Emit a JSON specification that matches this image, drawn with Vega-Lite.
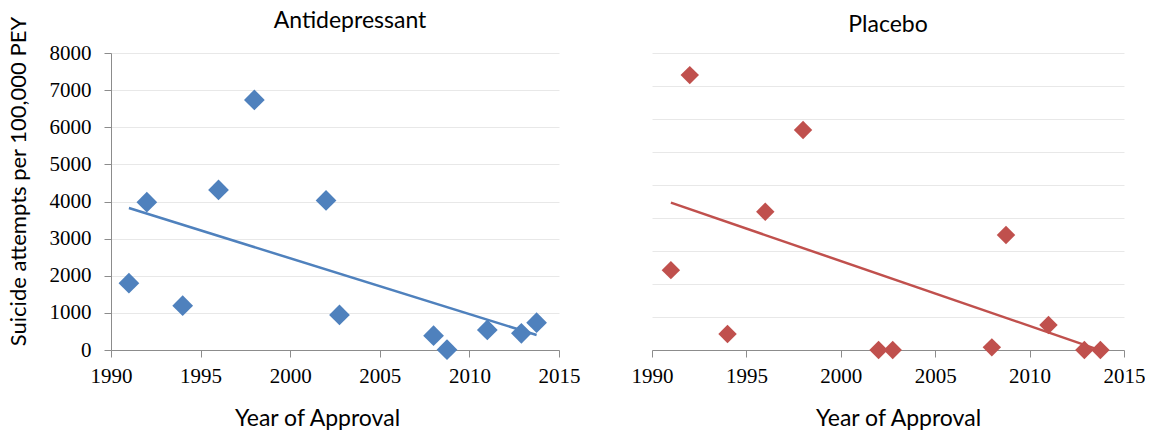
{
  "$schema": "https://vega.github.io/schema/vega-lite/v6.json",
  "padding": {"left": 6, "top": 10, "right": 0, "bottom": 0},
  "background": "white",
  "datasets": {
    "pts": [
      {"group": "Antidepressant", "year": 1991, "value": 1800},
      {"group": "Antidepressant", "year": 1992, "value": 3980},
      {"group": "Antidepressant", "year": 1994, "value": 1195},
      {"group": "Antidepressant", "year": 1996, "value": 4310},
      {"group": "Antidepressant", "year": 1998, "value": 6735},
      {"group": "Antidepressant", "year": 2002, "value": 4030},
      {"group": "Antidepressant", "year": 2002.75, "value": 945},
      {"group": "Antidepressant", "year": 2008, "value": 385},
      {"group": "Antidepressant", "year": 2008.75, "value": 10},
      {"group": "Antidepressant", "year": 2011, "value": 540},
      {"group": "Antidepressant", "year": 2012.9, "value": 450},
      {"group": "Antidepressant", "year": 2013.75, "value": 735},
      {"group": "Placebo", "year": 1991, "value": 2420},
      {"group": "Placebo", "year": 1992, "value": 8330},
      {"group": "Placebo", "year": 1994, "value": 485},
      {"group": "Placebo", "year": 1996, "value": 4190},
      {"group": "Placebo", "year": 1998, "value": 6665},
      {"group": "Placebo", "year": 2002, "value": 0},
      {"group": "Placebo", "year": 2002.75, "value": 0},
      {"group": "Placebo", "year": 2008, "value": 80},
      {"group": "Placebo", "year": 2008.75, "value": 3485},
      {"group": "Placebo", "year": 2011, "value": 760},
      {"group": "Placebo", "year": 2012.9, "value": 0},
      {"group": "Placebo", "year": 2013.75, "value": 0}
    ]
  },
  "data": {"name": "pts"},
  "spacing": 51,
  "config": {
    "view": {"stroke": null},
    "axis": {
      "labelFont": "Liberation Serif",
      "labelFontSize": 21,
      "labelColor": "#000000",
      "labelFlush": false,
      "labelOverlap": false,
      "tickSize": 7,
      "tickColor": "#8c8c8c",
      "domainColor": "#8c8c8c",
      "gridColor": "#e8e8e8",
      "titleFont": "Lato",
      "titleFontWeight": "normal",
      "titleColor": "#000000"
    },
    "title": {"font": "Lato", "fontSize": 23, "fontWeight": "normal", "color": "#000000"}
  },
  "hconcat": [
    {
      "width": 448,
      "height": 297,
      "title": {"text": "Antidepressant", "dx": 15, "offset": -17},
      "transform": [{"filter": "datum.group === 'Antidepressant'"}],
      "encoding": {
        "x": {
          "field": "year", "type": "quantitative",
          "scale": {"domain": [1990, 2015], "nice": false, "zero": false},
          "axis": {"values": [1990, 1995, 2000, 2005, 2010, 2015], "format": "d", "grid": false, "labelPadding": 8, "title": "Year of Approval", "titleFontSize": 23, "titlePadding": 21, "titleX": 206}
        },
        "y": {
          "field": "value", "type": "quantitative",
          "scale": {"domain": [0, 8000], "nice": false},
          "axis": {"values": [0, 1000, 2000, 3000, 4000, 5000, 6000, 7000, 8000], "format": "d", "grid": true, "labelPadding": 13, "title": "Suicide attempts per 100,000 PEY", "titleFontSize": 22, "titlePadding": 19, "titleY": 128}
        }
      },
      "layer": [
        {"mark": {"type": "point", "shape": "diamond", "filled": true, "size": 430, "color": "#4F81BD", "opacity": 1}},
        {
          "transform": [{"regression": "value", "on": "year"}],
          "mark": {"type": "line", "color": "#4F81BD", "strokeWidth": 2.5}
        }
      ]
    },
    {
      "width": 472,
      "height": 297,
      "title": {"text": "Placebo", "offset": 16},
      "transform": [{"filter": "datum.group === 'Placebo'"}],
      "encoding": {
        "x": {
          "field": "year", "type": "quantitative",
          "scale": {"domain": [1990, 2015], "nice": false, "zero": false},
          "axis": {"values": [1990, 1995, 2000, 2005, 2010, 2015], "format": "d", "grid": false, "labelPadding": 8, "title": "Year of Approval", "titleFontSize": 23, "titlePadding": 21, "titleX": 246}
        },
        "y": {
          "field": "value", "type": "quantitative",
          "scale": {"domain": [0, 9000], "nice": false},
          "axis": {"values": [0, 1000, 2000, 3000, 4000, 5000, 6000, 7000, 8000, 9000], "grid": true, "labels": false, "ticks": false, "domain": false, "title": null}
        }
      },
      "layer": [
        {"mark": {"type": "point", "shape": "diamond", "filled": true, "size": 340, "color": "#C0504D", "opacity": 1}},
        {
          "transform": [{"regression": "value", "on": "year"}],
          "mark": {"type": "line", "color": "#C0504D", "strokeWidth": 2.5}
        }
      ]
    }
  ]
}
